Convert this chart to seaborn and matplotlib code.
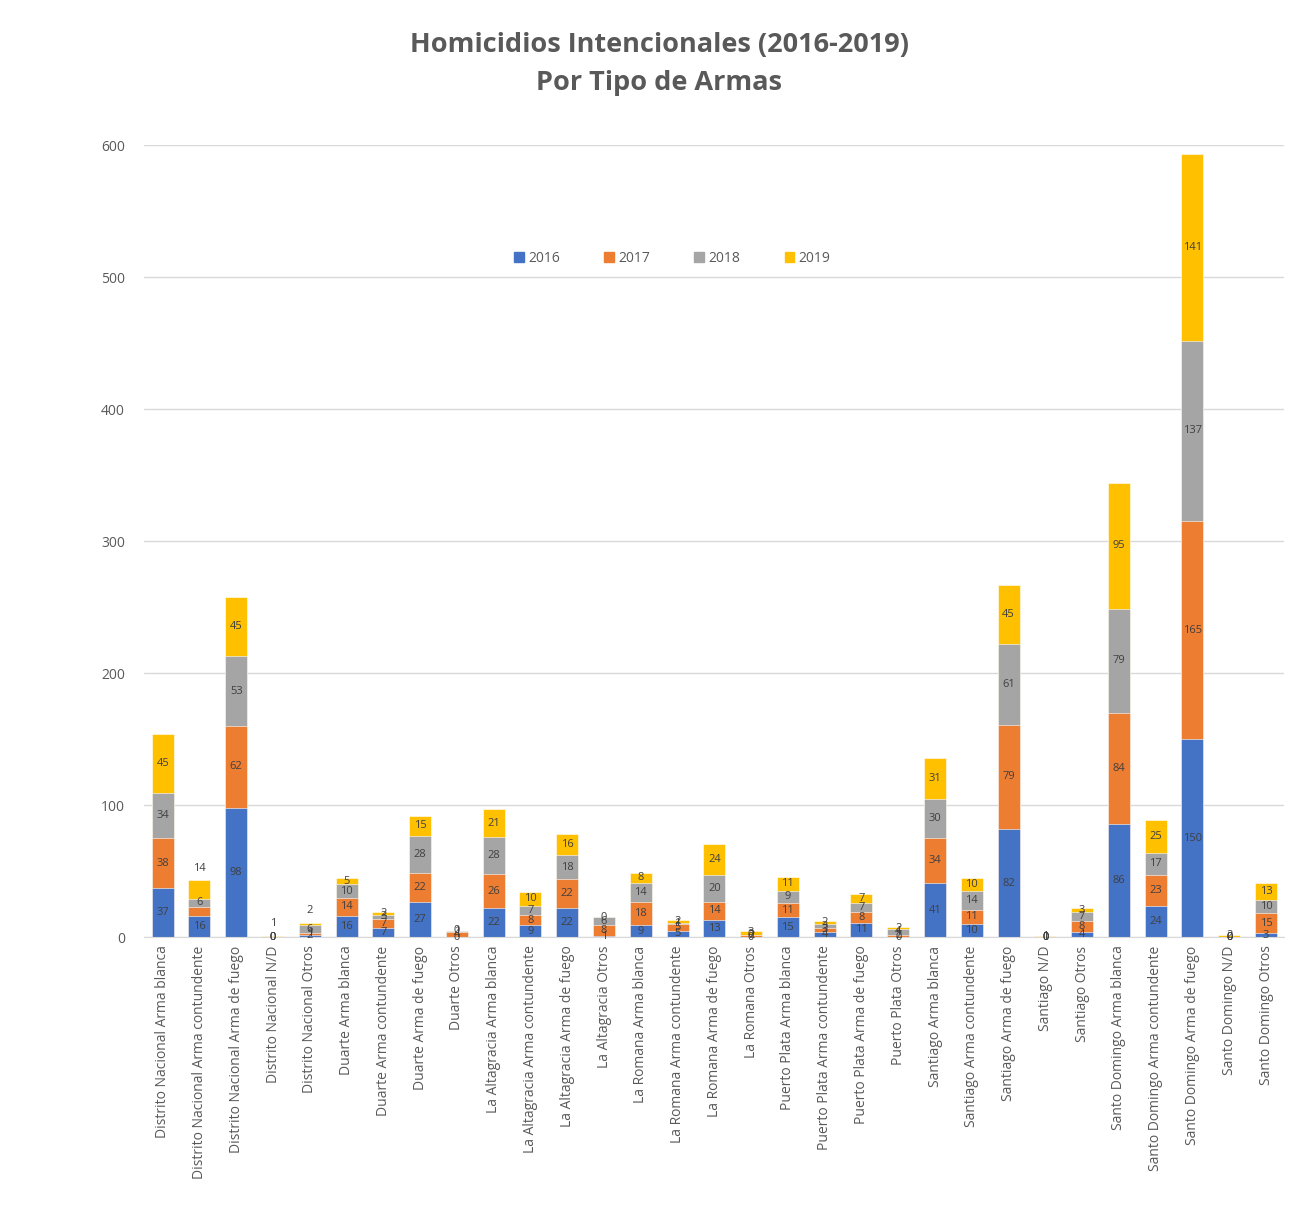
import numpy as np
import pandas as pd
import matplotlib
matplotlib.use("Agg")
import matplotlib.pyplot as plt
from matplotlib.patches import Patch
import seaborn as sns

# ============================================
# DATA
# ============================================
categories = [
    "Distrito Nacional Arma blanca", "Distrito Nacional Arma contundente",
    "Distrito Nacional Arma de fuego", "Distrito Nacional N/D", "Distrito Nacional Otros",
    "Duarte Arma blanca", "Duarte Arma contundente", "Duarte Arma de fuego", "Duarte Otros",
    "La Altagracia Arma blanca", "La Altagracia Arma contundente",
    "La Altagracia Arma de fuego", "La Altagracia Otros",
    "La Romana Arma blanca", "La Romana Arma contundente",
    "La Romana Arma de fuego", "La Romana Otros",
    "Puerto Plata Arma blanca", "Puerto Plata Arma contundente",
    "Puerto Plata Arma de fuego", "Puerto Plata Otros",
    "Santiago Arma blanca", "Santiago Arma contundente", "Santiago Arma de fuego",
    "Santiago N/D", "Santiago Otros",
    "Santo Domingo Arma blanca", "Santo Domingo Arma contundente",
    "Santo Domingo Arma de fuego", "Santo Domingo N/D", "Santo Domingo Otros",
]
years = ["2016", "2017", "2018", "2019"]
v2016 = [37, 16, 98, 0, 2, 16, 7, 27, 0, 22, 9, 22, 1, 9, 5, 13, 0, 15, 4, 11, 0,
         41, 10, 82, 0, 4, 86, 24, 150, 0, 3]
v2017 = [38, 7, 62, 0, 1, 14, 7, 22, 4, 26, 8, 22, 8, 18, 5, 14, 2, 11, 3, 8, 2,
         34, 11, 79, 0, 8, 84, 23, 165, 0, 15]
v2018 = [34, 6, 53, 0, 6, 10, 3, 28, 1, 28, 7, 18, 6, 14, 1, 20, 0, 9, 3, 7, 4,
         30, 14, 61, 0, 7, 79, 17, 137, 0, 10]
v2019 = [45, 14, 45, 1, 2, 5, 2, 15, 0, 21, 10, 16, 0, 8, 2, 24, 3, 11, 2, 7, 2,
         31, 10, 45, 1, 3, 95, 25, 141, 2, 13]
colors = ["#4472C4", "#ED7D31", "#A5A5A5", "#FFC000"]
# 2019 labels that sit above the bar in the original
labels_above = ["Distrito Nacional Arma contundente", "Distrito Nacional N/D",
                "Distrito Nacional Otros"]

series = [v2016, v2017, v2018, v2019]
df = pd.DataFrame({y: s for y, s in zip(years, series)}, index=categories)
cum = df.cumsum(axis=1)

# ============================================
# PLOT
# ============================================
sns.set_style("white")
plt.rcParams["font.family"] = ["Open Sans", "DejaVu Sans"]
fig = plt.figure(figsize=(13, 12.3), dpi=100)
ax = fig.add_axes([0.111, 0.238, 0.877, 0.644])

for i in range(len(years) - 1, -1, -1):
    sns.barplot(x=categories, y=cum[years[i]].values, color=colors[i],
                width=0.6, ax=ax, saturation=1, edgecolor="white", linewidth=0.4)

# data labels in the middle of each segment
for j, cat in enumerate(categories):
    base = 0
    for i, y in enumerate(years):
        val = df.loc[cat, y]
        if y == "2019" and cat in labels_above:
            ax.text(j, base + val + 5, str(val), ha="center", va="bottom",
                    fontsize=8, color="#404040")
        elif not (cat == "Distrito Nacional Arma contundente" and y == "2017"):
            ax.text(j, base + val / 2, str(val), ha="center", va="center",
                    fontsize=8, color="#404040")
        base += val

ax.set_ylim(0, 600)
ax.set_xlim(-0.5, len(categories) - 0.5)
ax.set_yticks(range(0, 601, 100))
ax.yaxis.grid(True, color="#D9D9D9", linewidth=1)
ax.set_axisbelow(True)
for s in ["top", "right", "left"]:
    ax.spines[s].set_visible(False)
ax.spines["bottom"].set_color("#D9D9D9")
ax.tick_params(axis="y", length=0, labelsize=10, colors="#595959", pad=14)
ax.tick_params(axis="x", length=0, labelsize=10, colors="#595959", rotation=90, pad=6)
ax.set_xlabel("")
ax.set_ylabel("")

handles = [Patch(color=c) for c in colors]
ax.legend(handles, years, loc="center", bbox_to_anchor=(0.463, 0.857), ncol=4,
          frameon=False, fontsize=10, handlelength=0.7, handleheight=0.7,
          handletextpad=0.3, columnspacing=3.2, labelcolor="#595959")

fig.text(0.507, 0.974, "Homicidios Intencionales (2016-2019)\nPor Tipo de Armas",
         ha="center", va="top", fontsize=19.5, fontweight="bold", color="#595959",
         linespacing=1.6)

fig.savefig("out.png", dpi=100)
print("Saved: out.png")
